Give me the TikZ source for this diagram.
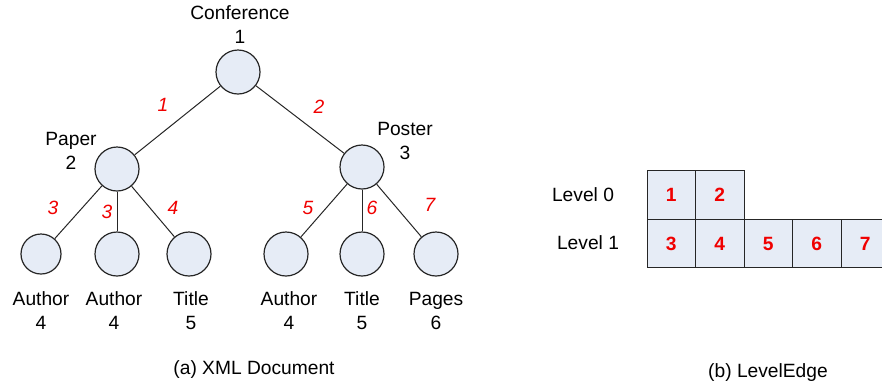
\documentclass[tikz,border=0pt]{standalone}
\usepackage{fontspec}
\setmainfont{Liberation Sans}
\definecolor{elemfill}{RGB}{230,236,246}
\definecolor{edgered}{RGB}{240,0,0}

\begin{document}
\begin{tikzpicture}[x=0.5pt, y=-0.5pt,
    elem/.style={circle, draw=black!85, line width=0.6pt, fill=elemfill,
        minimum size=22pt, inner sep=0pt},
    tag/.style={align=center, font=\fontsize{9.6}{12}\selectfont},
    edgenum/.style={text=edgered, font=\fontsize{9.6}{12}\selectfont\itshape},
    cell/.style={rectangle, draw=black!85, line width=0.5pt, fill=elemfill,
        minimum size=24.25pt, inner sep=0pt, text=edgered,
        font=\fontsize{9.6}{12}\selectfont\bfseries},
    link/.style={draw=black!85, line width=0.5pt}]
    \useasboundingbox (0,0) rectangle (882,387);

    \def\leafY{254}
    \def\cellsize{48.5}

    % Tree nodes
    \node[elem] (conf) at (238,72) {};
    \node[elem] (paper) at (117,169) {};
    \node[elem] (poster) at (362,167) {};
    \node[elem, minimum size=20pt] (author1) at (41,\leafY) {};
    \node[elem] (author2) at (117,\leafY) {};
    \node[elem] (title1) at (189,\leafY) {};
    \node[elem] (author3) at (286,\leafY) {};
    \node[elem] (title2) at (362,\leafY) {};
    \node[elem] (pages) at (436,\leafY) {};

    % Edges
    \draw[link] (conf) -- (paper);
    \draw[link] (conf) -- (poster);
    \foreach \leaf in {author1,author2,title1} {
        \draw[link] (paper) -- (\leaf);
    }
    \foreach \leaf in {author3,title2,pages} {
        \draw[link] (poster) -- (\leaf);
    }

    % Element names with their numbers
    \node[tag] (confname) at (240,25) {Conference\\1};
    \node[tag] (papername) at (71,151) {Paper\\2};
    \node[tag] (postername) at (405,141) {Poster\\3};
    \node[tag] (author1name) at (41,311) {Author\\4};
    \node[tag] (author2name) at (114,311) {Author\\4};
    \node[tag] (title1name) at (191,311) {Title\\5};
    \node[tag] (author3name) at (289,311) {Author\\4};
    \node[tag] (title2name) at (362,311) {Title\\5};
    \node[tag] (pagesname) at (436,311) {Pages\\6};

    % Edge numbers
    \node[edgenum] (e1) at (163,105) {1};
    \node[edgenum] (e2) at (319,107) {2};
    \node[edgenum] (e3) at (53,208) {3};
    \node[edgenum] (e3b) at (107,212) {3};
    \node[edgenum] (e4) at (173,208) {4};
    \node[edgenum] (e5) at (308,208) {5};
    \node[edgenum] (e6) at (372,208) {6};
    \node[edgenum] (e7) at (430,205) {7};

    % Level 0
    \foreach \n [count=\i from 0] in {1,2} {
        \node[cell] (cell\n) at ({647 + (\i + 0.5) * \cellsize}, 195) {\n};
    }

    % Level 1
    \foreach \n [count=\i from 0] in {3,...,7} {
        \node[cell] (cell\n) at ({647 + (\i + 0.5) * \cellsize}, 243.5) {\n};
    }

    \node[tag] (level0) at (583,195) {Level 0};
    \node[tag] (level1) at (588,243) {Level 1};

    % Captions
    \node[tag] (capa) at (254,370) {(a) XML Document};
    \node[tag] (capb) at (768,373) {(b) LevelEdge};
\end{tikzpicture}
\end{document}
